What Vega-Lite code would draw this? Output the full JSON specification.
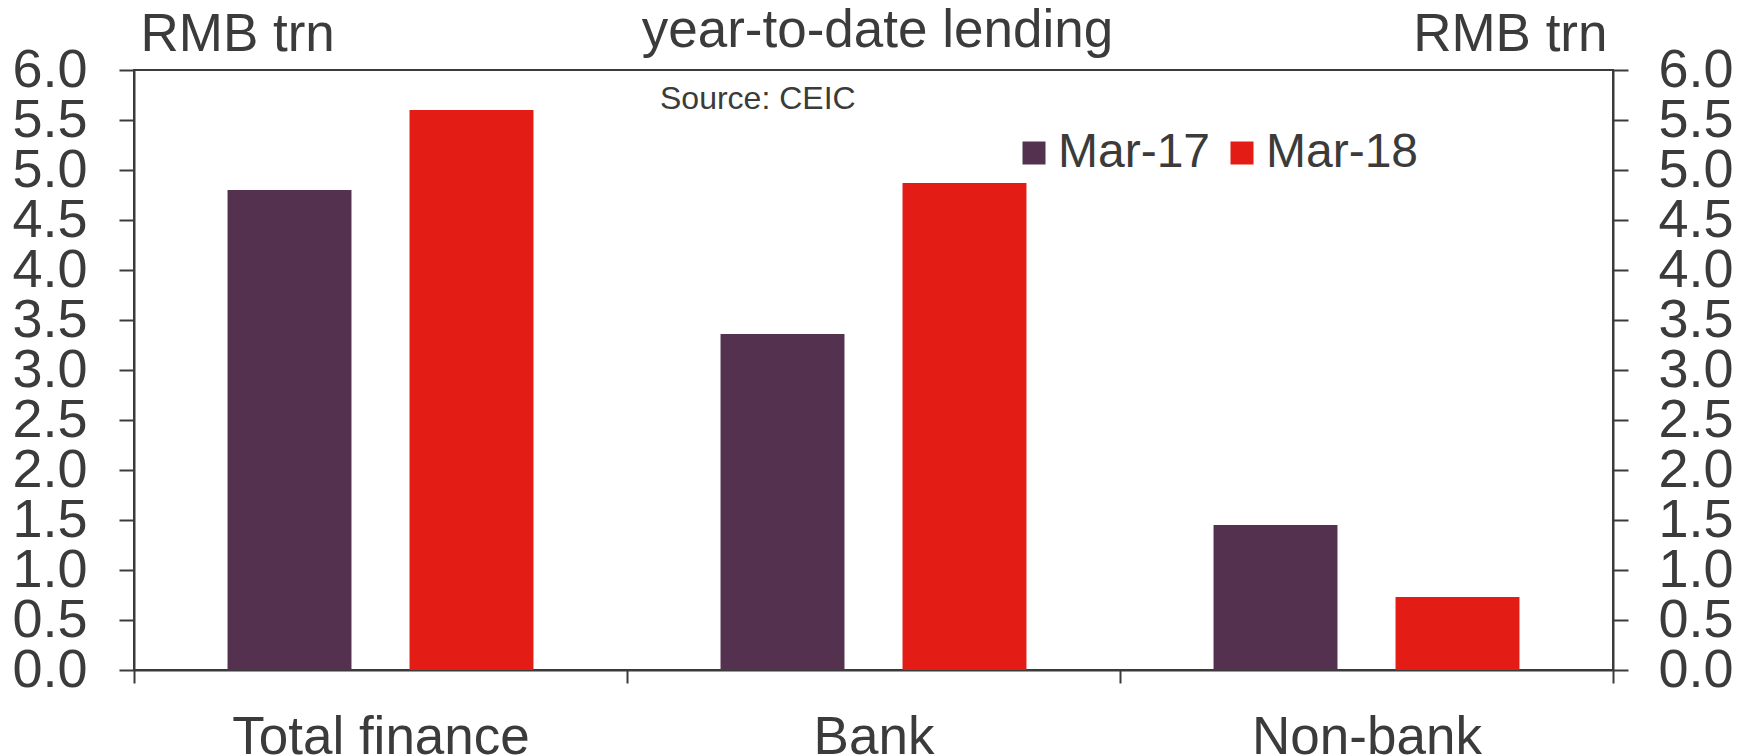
{
  "$schema": "https://vega.github.io/schema/vega-lite/v6.json",
  "width": 1479,
  "height": 600,
  "autosize": {"type": "none"},
  "padding": {"left": 134, "top": 70, "right": 137, "bottom": 86},
  "background": "white",
  "data": {
    "values": [
      {"category": "Total finance", "period": "Mar-17", "value": 4.8},
      {"category": "Total finance", "period": "Mar-18", "value": 5.6},
      {"category": "Bank", "period": "Mar-17", "value": 3.36},
      {"category": "Bank", "period": "Mar-18", "value": 4.87},
      {"category": "Non-bank", "period": "Mar-17", "value": 1.45},
      {"category": "Non-bank", "period": "Mar-18", "value": 0.73}
    ]
  },
  "layer": [
    {
      "mark": {"type": "bar"},
      "encoding": {
        "x": {
          "field": "category",
          "type": "nominal",
          "scale": {"domain": ["Total finance", "Bank", "Non-bank"], "paddingInner": 0, "paddingOuter": 0},
          "axis": {
            "title": null,
            "labelAngle": 0,
            "labelLimit": 0,
            "labelFont": "Liberation Sans",
            "labelFontSize": 53,
            "labelColor": "#3b3b3b",
            "labelPadding": 28,
            "tickBand": "extent",
            "tickSize": 13,
            "tickWidth": 2,
            "tickColor": "#3b3b3b",
            "domainColor": "#3b3b3b",
            "domainWidth": 2
          }
        },
        "xOffset": {
          "field": "period",
          "scale": {"domain": ["Mar-17", "Mar-18"], "paddingInner": 0.319, "paddingOuter": 0.514}
        },
        "y": {
          "field": "value",
          "type": "quantitative",
          "scale": {"domain": [0, 6], "nice": false},
          "axis": {
            "orient": "left",
            "values": [0, 0.5, 1, 1.5, 2, 2.5, 3, 3.5, 4, 4.5, 5, 5.5, 6],
            "format": ".1f",
            "grid": false,
            "labelFont": "Liberation Sans",
            "labelFontSize": 54,
            "labelColor": "#3b3b3b",
            "labelPadding": 32,
            "labelOverlap": false,
            "labelBound": false,
            "labelFlush": false,
            "tickSize": 15,
            "tickWidth": 2,
            "tickColor": "#3b3b3b",
            "domainColor": "#3b3b3b",
            "domainWidth": 2,
            "title": "RMB trn",
            "titleAngle": 0,
            "titleAlign": "left",
            "titleBaseline": "alphabetic",
            "titleX": 6,
            "titleY": -20,
            "titleFont": "Liberation Sans",
            "titleFontSize": 53,
            "titleFontWeight": "normal",
            "titleColor": "#3b3b3b"
          }
        },
        "color": {
          "field": "period",
          "type": "nominal",
          "scale": {"domain": ["Mar-17", "Mar-18"], "range": ["#53314f", "#e31c15"]},
          "legend": {
            "title": null,
            "orient": "none",
            "direction": "horizontal",
            "legendX": 876,
            "legendY": 59,
            "symbolType": "square",
            "symbolSize": 529,
            "symbolStrokeWidth": 0,
            "labelFont": "Liberation Sans",
            "labelFontSize": 48,
            "labelColor": "#3b3b3b",
            "labelOffset": 0,
            "columnPadding": 7
          }
        }
      }
    },
    {
      "mark": {"type": "bar", "opacity": 0},
      "encoding": {
        "x": {"field": "category", "type": "nominal", "scale": {"domain": ["Total finance", "Bank", "Non-bank"]}},
        "y": {
          "field": "value",
          "type": "quantitative",
          "scale": {"domain": [0, 6], "nice": false},
          "axis": {
            "orient": "right",
            "values": [0, 0.5, 1, 1.5, 2, 2.5, 3, 3.5, 4, 4.5, 5, 5.5, 6],
            "format": ".1f",
            "grid": false,
            "labelFont": "Liberation Sans",
            "labelFontSize": 54,
            "labelColor": "#3b3b3b",
            "labelPadding": 30,
            "labelOverlap": false,
            "labelBound": false,
            "labelFlush": false,
            "tickSize": 15,
            "tickWidth": 2,
            "tickColor": "#3b3b3b",
            "domainColor": "#3b3b3b",
            "domainWidth": 2,
            "title": "RMB trn",
            "titleAngle": 0,
            "titleAlign": "right",
            "titleBaseline": "alphabetic",
            "titleX": -6,
            "titleY": -20,
            "titleFont": "Liberation Sans",
            "titleFontSize": 53,
            "titleFontWeight": "normal",
            "titleColor": "#3b3b3b"
          }
        }
      }
    },
    {
      "data": {"values": [{"note": "Source: CEIC"}]},
      "mark": {"type": "text", "align": "left", "baseline": "alphabetic", "font": "Liberation Sans", "fontSize": 32, "color": "#3b3b3b"},
      "encoding": {
        "x": {"datum": "Bank", "bandPosition": 0.067, "scale": {"domain": ["Total finance", "Bank", "Non-bank"]}},
        "y": {"datum": 5.61, "scale": {"domain": [0, 6], "nice": false}, "axis": null},
        "text": {"field": "note"}
      }
    },
    {
      "data": {"values": [{"heading": "year-to-date lending"}]},
      "mark": {"type": "text", "align": "center", "baseline": "alphabetic", "font": "Liberation Sans", "fontSize": 53, "color": "#3b3b3b"},
      "encoding": {
        "x": {"datum": "Bank", "bandPosition": 0.508, "scale": {"domain": ["Total finance", "Bank", "Non-bank"]}},
        "y": {"datum": 6.23, "scale": {"domain": [0, 6], "nice": false}, "axis": null},
        "text": {"field": "heading"}
      }
    }
  ],
  "resolve": {"axis": {"y": "independent"}},
  "config": {"view": {"stroke": "#3b3b3b", "strokeWidth": 2}}
}
